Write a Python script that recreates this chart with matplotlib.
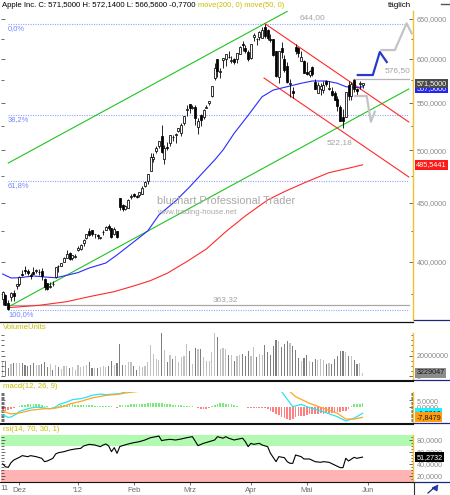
#!/usr/bin/env python3
"""
Apple Inc. daily chart (bluchart style): candles with moving averages,
trend channels and Fibonacci levels, plus volume, MACD and RSI panels.
"""

import numpy as np
import matplotlib
matplotlib.use("Agg")
import matplotlib.pyplot as plt
from matplotlib.lines import Line2D
from matplotlib.patches import Polygon
from matplotlib.ticker import NullFormatter

plt.rcParams["font.family"] = ["Liberation Sans", "DejaVu Sans"]

# ---- price data, one entry per trading day (22 Nov 2011 .. 30 May 2012) ----
opens = [
    371.0, 374.5, 368.4, 372.4, 375.8, 381.3,
    382.5, 389.8, 393.5, 392.5, 389.9, 391.5, 392.9, 391.7, 393.0, 386.7,
    383.3, 380.4, 382.5, 387.8, 396.7, 397.0, 399.7, 403.1, 406.9, 403.4, 403.5,
    409.5, 410.0, 414.9, 419.8, 425.5, 425.9, 422.6, 422.3, 419.5, 424.2,
    426.3, 430.0, 427.5, 422.7, 425.1, 454.4, 448.0, 444.3, 445.7, 455.6,
    458.4, 455.9, 457.3, 458.4, 465.3, 470.5, 480.0, 491.0, 499.5, 504.7,
    514.3, 491.5, 503.1, 506.9, 513.1, 515.1, 519.7, 517.6, 528.0, 541.6,
    548.2, 544.2, 545.4, 523.7, 536.8, 534.7, 544.2, 549.0, 557.5, 578.1,
    599.6, 584.7, 598.4, 599.5, 602.7, 597.8, 600.5, 599.8, 606.2, 618.4, 612.8, 608.8,
    601.8, 627.3, 624.4, 627.0, 626.1, 639.9, 636.2, 625.0, 624.1, 610.1,
    578.9, 613.0, 600.2, 591.4, 570.6, 562.6, 615.0, 613.8, 597.8, 597.9,
    584.9, 580.7, 590.5, 573.2, 561.0, 565.2, 563.7, 574.6, 565.0, 562.6,
    561.0, 554.0, 545.3, 534.0, 534.5, 569.6, 557.5, 575.9, 564.6, 570.9, 569.2,
]
highs = [
    377.0, 375.0, 370.5, 376.4, 378.2, 382.4,
    389.0, 393.6, 396.4, 394.6, 391.0, 395.5, 394.6, 393.9, 395.4, 387.4,
    383.7, 384.1, 384.8, 396.0, 397.3, 399.1, 403.6, 409.1, 408.2, 405.6, 406.3,
    412.5, 414.7, 418.6, 422.8, 427.8, 426.0, 422.9, 422.9, 420.5, 425.9,
    429.5, 431.4, 427.5, 428.5, 425.1, 454.5, 448.8, 448.5, 453.9, 458.2,
    459.0, 457.2, 460.0, 465.0, 469.8, 476.8, 496.8, 497.6, 503.8, 509.6,
    526.3, 504.9, 507.8, 514.9, 515.5, 517.8, 522.9, 528.0, 535.4, 547.6,
    548.2, 546.8, 547.5, 533.7, 537.8, 543.0, 547.7, 552.0, 568.2, 594.7,
    600.0, 589.2, 601.8, 606.0, 609.7, 603.5, 601.8, 607.2, 616.3, 621.5, 616.6, 610.6,
    618.8, 632.2, 625.9, 634.7, 639.8, 644.0, 636.9, 631.3, 624.7, 610.3,
    610.0, 620.3, 604.9, 596.0, 576.7, 567.7, 618.0, 614.7, 609.8, 598.4,
    596.8, 587.4, 591.4, 576.5, 572.8, 571.5, 573.9, 575.9, 574.5, 567.5,
    563.0, 556.9, 547.5, 543.4, 561.5, 573.9, 572.8, 576.5, 566.0, 574.0, 572.1,
]
lows = [
    367.0, 366.9, 363.3, 370.0, 370.1, 378.4,
    380.8, 388.6, 390.4, 389.9, 386.5, 390.2, 391.0, 389.5, 385.9, 377.7,
    378.3, 379.6, 380.7, 387.2, 392.0, 396.7, 399.5, 403.0, 401.1, 401.3, 403.4,
    409.0, 409.3, 412.5, 419.0, 421.4, 421.5, 419.3, 418.8, 418.7, 422.0,
    426.3, 426.0, 419.8, 422.3, 419.6, 443.7, 443.1, 443.8, 445.3, 453.1,
    455.6, 454.0, 455.6, 458.2, 464.5, 467.5, 480.0, 488.5, 497.1, 502.0,
    496.9, 486.6, 500.3, 504.1, 509.1, 507.4, 518.6, 514.3, 525.9, 535.7,
    538.8, 542.5, 526.0, 516.2, 525.2, 532.1, 543.9, 547.0, 555.8, 575.4,
    578.6, 578.0, 589.0, 592.0, 601.4, 595.0, 594.4, 595.3, 606.1, 610.3, 607.2, 597.9,
    600.4, 622.5, 617.0, 623.4, 625.3, 626.0, 623.3, 620.5, 603.5, 578.3,
    571.9, 600.7, 584.9, 572.0, 556.6, 555.0, 606.0, 602.1, 597.8, 583.0,
    581.2, 578.6, 580.0, 565.2, 561.0, 558.8, 560.5, 568.4, 564.4, 556.9,
    552.4, 541.0, 530.1, 522.2, 534.1, 552.6, 553.2, 561.2, 558.6, 565.3, 566.6,
]
closes = [
    376.5, 367.0, 363.6, 376.1, 373.2, 382.2,
    387.9, 389.7, 393.0, 391.0, 389.1, 390.7, 393.6, 391.8, 388.8, 380.2,
    379.0, 381.0, 382.2, 396.0, 396.4, 398.6, 403.3, 406.5, 402.6, 405.1, 405.0,
    411.2, 413.4, 418.0, 422.4, 421.7, 423.2, 422.6, 421.4, 419.8, 424.7,
    429.1, 427.8, 420.3, 427.4, 420.4, 446.7, 444.6, 447.3, 453.0, 456.5,
    456.2, 455.1, 459.7, 464.0, 468.8, 476.7, 493.2, 493.4, 502.6, 509.5,
    497.7, 502.2, 502.1, 514.9, 513.0, 516.4, 522.4, 525.8, 535.4, 542.4,
    544.5, 545.2, 533.2, 530.3, 530.7, 542.0, 545.2, 552.0, 568.1, 589.6,
    585.6, 585.6, 601.1, 606.0, 602.5, 599.3, 596.1, 607.0, 614.5, 617.6, 609.9, 599.6,
    618.6, 629.3, 624.3, 633.7, 636.2, 628.4, 626.2, 622.8, 605.2, 580.1,
    609.7, 608.3, 587.4, 573.0, 571.7, 560.3, 610.0, 607.7, 603.0, 584.0,
    582.1, 586.0, 581.8, 565.3, 569.5, 568.2, 569.2, 570.5, 566.7, 558.2,
    553.2, 546.1, 530.1, 530.4, 561.3, 557.0, 570.6, 565.3, 562.3, 572.3, 571.5,
]

# volume in millions of shares
volume = [
    13.9, 15.2, 8.1, 11.9, 12.9, 12.9, 12.9, 12.9, 11.3, 9.7,
    10.6, 12.9, 10.6, 10.6, 11.9, 13.9, 8.7, 11.9, 6.5, 11.3,
    8.7, 7.4, 9.7, 9.7, 8.1, 8.7, 6.5, 10.6, 8.7, 9.7,
    10.6, 13.9, 8.1, 8.1, 8.1, 8.7, 9.7, 8.7, 9.7, 14.5,
    10.6, 12.9, 31.3, 11.3, 11.3, 13.5, 13.5, 10.3, 6.5, 9.7,
    8.7, 10.3, 13.9, 30.0, 21.6, 17.1, 15.5, 41.9, 25.8, 13.9,
    21.0, 17.1, 19.4, 13.9, 18.4, 19.4, 31.3, 24.2, 11.9, 27.4,
    26.8, 26.8, 18.4, 15.2, 14.5, 23.2, 41.9, 37.7, 26.8, 27.4,
    26.8, 21.0, 20.3, 14.5, 20.0, 21.0, 21.9, 19.4, 24.2, 19.4,
    28.1, 18.7, 21.9, 20.3, 30.0, 23.5, 21.0, 29.0, 34.8, 33.9,
    28.1, 31.3, 33.9, 32.3, 29.0, 25.2, 17.7, 14.5, 17.7, 20.3,
    14.5, 13.9, 17.1, 15.5, 17.1, 15.5, 12.3, 12.9, 12.3, 17.1,
    19.4, 24.2, 24.2, 23.2, 19.4, 19.4, 16.1, 11.9, 12.9, 3.23,
]

# moving averages (day index, price)
ma50_days = [0, 3, 6, 11, 15, 19, 22, 27, 31, 37, 41, 46, 52, 56, 62, 67, 72,
             76, 79, 83, 88, 93, 97, 102, 107, 111, 116, 120, 123, 126, 129]
ma50_vals = [390.3, 387.2, 387.4, 388.8, 388.0, 387.4, 388.8, 391.4, 395.0, 399.0,
             405.5, 414.4, 425.4, 439.2, 451.7, 464.5, 478.7, 490.3, 500.2, 517.2,
             536.1, 556.4, 563.9, 567.7, 571.6, 574.2, 574.2, 571.6, 567.7, 566.5, 567.5]
ma200_days = [2, 13, 23, 31, 40, 47, 53, 59, 66, 73, 80, 87, 95, 101, 109, 117, 124, 129]
ma200_vals = [364.9, 366.6, 369.3, 373.0, 376.8, 381.1, 385.2, 390.9, 400.1, 410.3,
              424.8, 438.4, 452.6, 460.2, 469.4, 478.0, 482.3, 485.5441]

# trend channels (day, price) anchors
green_low_days, green_low_vals = [2, 145.6], [365.4, 565.1]
green_up_days, green_up_vals = [2, 102], [487.3, 660.0]
red_up_days, red_up_vals = [94, 145.6], [644.0, 529.0]
red_low_days, red_low_vals = [93.7, 145.6], [577.6, 473.9]

# scenario sketches drawn on the chart
proj_blue_days = [127.3, 132.7, 135.2, 137.7]
proj_blue_vals = [581.1, 581.1, 608.5, 596.4]
proj_up_days = [135.8, 140.6, 144.8, 146.6]
proj_up_vals = [610.9, 610.9, 644.4, 631.7]
proj_down_days = [126.3, 130.5, 132.0, 133.4]
proj_down_vals = [557.2, 557.2, 529.3, 540.0]

swing_high = 644.00
swing_low = 363.32
recent_low = 522.18
resistance = 576.50
support_line = 366.8
fib_ratios = [0.0, 0.382, 0.618, 1.0]
fib_names = ["0,0%", "38,2%", "61,8%", "100,0%"]

# MACD(12,26,9); nan where the line leaves the panel
macd_days = [0, 2, 3, 5, 6, 8, 10, 12, 13, 15, 17, 19, 20, 23, 25, 28, 30, 32, 35,
             37, 40, 42, 44, 45, 100, 104, 107, 110, 115, 120, 123, 126, 129]
macd_vals = [-5.9, -7.9, -7.6, -5.3, -3.3, -2.0, -0.8, -0.2, -0.2, -0.8, -1.3, -0.2,
             1.8, 3.8, 5.6, 6.4, 7.4, 8.9, 9.9, 9.4, 9.9, 10.2, 11.5, np.nan,
             11.7, 0.2, 2.0, -0.5, -3.6, -7.4, -10.7, -8.6, -4.8]
signal_days = [0, 3, 6, 10, 12, 15, 17, 19, 22, 24, 28, 30, 32, 35, 37, 40, 42, 44,
               47, 49, 50, 103, 105, 110, 115, 120, 123, 126, 129]
signal_vals = [-3.3, -5.3, -4.6, -2.5, -2.0, -1.3, -1.3, -0.8, 0.5, 2.3, 4.3, 5.6,
               6.9, 8.1, 8.9, 9.4, 9.9, 10.7, 11.5, 12.0, np.nan,
               11.7, 7.9, 2.8, -1.0, -4.8, -9.2, -9.2, -7.9]
macd_hist = [
    -2.2, -2.8, -2.6, -1.6, -0.6, 0.3,
    0.8, 1.3, 1.8, 2.0, 2.2, 2.3, 2.2, 2.0, 1.6, 1.0,
    0.4, -0.2, 0.2, 0.5, 0.9,
    1.3, 1.6, 1.8, 2.0, 2.0, 1.9, 1.8, 1.6, 1.5, 1.4, 1.3, 1.2, 1.0, 0.9, 0.8, 0.7, 0.6, 0.5, 0.4,
    0.2, -0.4,
    1.2, 1.6, 1.8, 1.9, 2.0, 2.0, 2.1, 2.2, 2.3, 2.5, 2.8, 3.1, 3.3, 3.3, 3.2, 2.9, 2.5, 2.2,
    2.0, 1.9, 1.7, 1.6, 1.4,
    1.1, 0.9, 0.7, 0.4, 0.2,
    -0.8, -1.5, -1.8, -1.5, -0.8,
    0.5, 1.5, 2.3, 2.8, 2.9, 2.6, 2.3, 2.0, 1.5,
    0.6, 0.3, 0.2, 0.1,
    -0.5, -0.6, -0.6, -0.8, -0.9, -0.9, -1.0, -1.2,
    -3.1, -4.0, -5.0, -6.0, -7.4, -8.7, -9.5, -9.9, -9.2, -8.0, -6.8, -6.6, -7.0, -6.0,
    -5.6, -5.4, -5.6, -5.0, -4.8, -5.0, -4.6, -4.8, -4.6, -4.3, -4.0, -3.6, -3.3, -2.8,
    -1.5, 1.0, 2.0, 2.4, 2.6, 2.8,
]
macd_last, signal_last = -4.8018, -7.8479

# RSI(14)
rsi_days = [0, 1, 2, 3, 4, 6, 7, 9, 10, 12, 14, 15, 16, 18, 19, 20, 22, 24, 26, 28,
            29, 31, 33, 35, 36, 37, 38, 39, 40, 41, 42, 43, 45, 47, 49, 51, 53, 55,
            56, 57, 58, 60, 62, 64, 66, 68, 69, 70, 72, 74, 76, 77, 79, 80, 81, 83,
            84, 86, 87, 88, 89, 90, 92, 93, 95, 96, 98, 99, 101, 102, 103, 104, 105,
            107, 108, 110, 112, 114, 115, 117, 119, 121, 122, 123, 124, 126, 127, 129]
rsi_vals = [40.0, 35.0, 34.0, 42.0, 46.4, 50.9, 53.7, 52.0, 53.7, 52.0, 49.2, 43.6,
            44.7, 49.2, 56.5, 58.7, 60.4, 63.2, 64.9, 66.0, 69.9, 72.7, 71.6, 68.8,
            71.6, 73.3, 70.0, 60.4, 67.1, 57.6, 69.0, 70.5, 73.3, 75.5, 77.2, 80.0,
            83.9, 85.6, 86.7, 78.9, 80.0, 81.1, 80.0, 81.7, 83.9, 85.6, 78.3, 70.5,
            74.4, 77.2, 80.0, 85.6, 83.0, 85.6, 83.0, 80.0, 81.1, 83.0, 77.2, 68.8,
            74.4, 72.7, 74.4, 71.6, 68.8, 57.6, 43.6, 52.0, 50.3, 43.6, 40.8, 40.8,
            54.8, 52.0, 48.1, 48.1, 43.6, 42.5, 43.6, 42.5, 38.0, 33.5, 33.5, 49.2,
            44.7, 50.9, 49.2, 51.2732]

month_days = [6, 27, 47, 67, 89, 109, 131]
month_labels = ["Dez", "'12", "Feb", "Mrz", "Apr", "Mai", "Jun"]

# ---- layout ----
W, H = 450, 495
XMIN, XMAX = -0.6, 147.1
YELLOW = "#f2c22a"
NAVY = "#1b2a80"
LABEL_GRAY = "#8a8a8a"
HEADER = "#c9bd00"


def de(v, nd=4):
    return f"{v:.{nd}f}".replace(".", ",")


def px_axes(fig, x0, y0, x1, y1):
    return fig.add_axes([x0 / W, 1 - y1 / H, (x1 - x0) / W, (y1 - y0) / H])


def fig_text(fig, x, y, s, **kw):
    kw.setdefault("va", "center")
    return fig.text(x / W, 1 - y / H, s, **kw)


def fig_line(fig, xs, ys, **kw):
    fig.add_artist(Line2D([x / W for x in xs], [1 - y / H for y in ys],
                          transform=fig.transFigure, **kw))


def style_panel(ax, major, labels, minor):
    for side in ("top", "left", "bottom"):
        ax.spines[side].set_visible(False)
    ax.spines["right"].set_color(YELLOW)
    ax.spines["right"].set_linewidth(1.0)
    ax.set_xlim(XMIN, XMAX)
    ax.set_yticks(major, labels)
    ax.set_yticks(minor, minor=True)
    ax.yaxis.set_minor_formatter(NullFormatter())
    ax.tick_params(axis="x", which="both", bottom=False, labelbottom=False)
    ax.tick_params(axis="y", which="both", left=True, right=True, labelleft=False,
                   labelright=True, direction="in", color="#333333", width=0.5,
                   labelsize=5.2, labelcolor=LABEL_GRAY, pad=2.5)
    ax.tick_params(axis="y", which="major", length=3)
    ax.tick_params(axis="y", which="minor", length=1.8)


def value_box(ax, y, text, fc, tc):
    ax.text(1.008, y, text, transform=ax.get_yaxis_transform(), ha="left",
            va="center", fontsize=5.2, color=tc, zorder=6, clip_on=False,
            bbox=dict(boxstyle="square,pad=0.18", fc=fc, ec="none"))


def main():
    fig = plt.figure(figsize=(W / 100, H / 100), dpi=100)
    days = np.arange(len(closes))
    o, h, l, c = (np.array(a) for a in (opens, highs, lows, closes))
    up = c >= o

    # ---- price panel ----
    ax = px_axes(fig, 1, 11, 413, 320)
    ax.set_yscale("log")
    ax.set_ylim(356.0, 660.5)
    price_major = [400, 450, 500, 550, 600, 650]
    price_minor = [375, 425, 475, 525, 575, 625]
    style_panel(ax, price_major, [de(v) for v in price_major], price_minor)

    for r, name in zip(fib_ratios, fib_names):
        level = swing_high - r * (swing_high - swing_low)
        ax.plot([1.9, 145.6], [level, level], color="#8ea6ff", lw=0.8,
                ls=(0, (1, 1.2)), zorder=1)
        ax.annotate(name, (1.9, level), xytext=(0, -1), textcoords="offset points",
                    ha="left", va="top", fontsize=5.4, color="#6f86ff")

    ax.plot([2, 145.6], [support_line, support_line], color="#a8a8a8", lw=0.9, zorder=1)
    ax.plot([125.6, 145.6], [resistance, resistance], color="#b4b4b4", lw=0.9, zorder=1)

    ax.plot(green_low_days, green_low_vals, color="#1fc41f", lw=0.8, zorder=2)
    ax.plot(green_up_days, green_up_vals, color="#1fc41f", lw=0.8, zorder=2)
    ax.plot(red_up_days, red_up_vals, color="#ff2a2a", lw=0.8, zorder=2)
    ax.plot(red_low_days, red_low_vals, color="#ff2a2a", lw=0.8, zorder=2)
    ax.plot(ma200_days, ma200_vals, color="#ff2a2a", lw=0.8, zorder=2)
    ax.plot(ma50_days, ma50_vals, color="#2a2aff", lw=0.8, zorder=2)

    ax.vlines(days, l, h, color="black", lw=0.6, zorder=3)
    body_lo = np.minimum(o, c)
    body_h = np.maximum(np.abs(c - o), 0.5)
    ax.bar(days, body_h, bottom=body_lo, width=0.72,
           color=np.where(up, "white", "black"), edgecolor="black",
           linewidth=0.55, zorder=4)

    ax.plot(proj_up_days, proj_up_vals, color="#c4c4c4", lw=1.6, zorder=3)
    ax.plot(proj_down_days, proj_down_vals, color="#c4c4c4", lw=1.6, zorder=3)
    ax.plot(proj_blue_days, proj_blue_vals, color="#2b3bc8", lw=1.6, zorder=3)

    ann = dict(fontsize=6, color="#a4a4a4", zorder=5)
    ax.text(110.9, 651.3, de(swing_high, 2), ha="center", va="center", **ann)
    ax.text(146.3, 585.8, de(resistance, 2), ha="right", va="center", **ann)
    ax.text(120.7, 508.2, de(recent_low, 2), ha="center", va="center", **ann)
    ax.text(80.0, 370.9, de(swing_low, 2), ha="center", va="center", **ann)

    value_box(ax, ma50_vals[-1] - 1.5, de(ma50_vals[-1]), "#2424f0", "white")
    value_box(ax, closes[-1], de(closes[-1]), "#4a4a4a", "white")
    value_box(ax, ma200_vals[-1], de(ma200_vals[-1]), "#ff1a1a", "white")

    # ---- volume panel ----
    axv = px_axes(fig, 1, 333, 413, 379.7)
    axv.set_ylim(-3.3, 42)
    style_panel(axv, [0, 20], ["0", "20000000"], [5, 10, 15, 25, 30, 35, 40])
    axv.bar(days, volume, width=0.42,
            color=np.where(up, "#c2c2c2", "#7e7e7e"), linewidth=0)
    value_box(axv, volume[-1], "3229047", "#8c8c8c", "#1a1a1a")

    # ---- MACD panel ----
    axm = px_axes(fig, 1, 392, 413, 422)
    axm.set_ylim(-11.45, 11.45)
    style_panel(axm, [0, 5], [de(0), de(5)], list(range(-11, 12)))
    hist = np.array(macd_hist)
    axm.bar(days, hist, width=0.6, color=np.where(hist >= 0, "#7de87d", "#ff8080"),
            linewidth=0)
    axm.plot(macd_days, macd_vals, color="#28e4f4", lw=0.9)
    axm.plot(signal_days, signal_vals, color="#ffa424", lw=0.9)
    value_box(axm, macd_last, de(macd_last), "#22f0ff", "#1a1a1a")
    value_box(axm, signal_last, de(signal_last), "#ff9c10", "#1a1a1a")

    # ---- RSI panel ----
    axr = px_axes(fig, 1, 435, 413, 481.7)
    axr.set_ylim(9.9, 88.4)
    style_panel(axr, [20, 40, 60, 80], [de(v) for v in (20, 40, 60, 80)],
                list(range(10, 90, 5)))
    axr.axhspan(70, 100, color="#b2f9b2", lw=0, zorder=0)
    axr.axhspan(0, 30, color="#ffb3b3", lw=0, zorder=0)
    axr.plot(rsi_days, rsi_vals, color="black", lw=0.8)
    value_box(axr, rsi_vals[-1], de(rsi_vals[-1]), "black", "white")
    axr.set_xticks(month_days, month_labels)
    axr.tick_params(axis="x", which="major", bottom=True, labelbottom=True,
                    direction="out", length=2, width=0.5, color="#333333",
                    labelsize=5.6, labelcolor="#6e6e6e", pad=1.5)

    # ---- frame, headers and texts ----
    for y, lw in ((321.5, 0.9), (381.0, 1.5), (423.5, 1.5), (482.2, 0.8)):
        fig_line(fig, [0, 413], [y, y], color="#111111", lw=lw)
    for y in (320.3, 380.3, 423.0, 481.7):
        fig_line(fig, [413.5, 450], [y, y], color=NAVY, lw=0.9)
    fig_line(fig, [413.5, 413.5], [482, 495], color="#333333", lw=0.8)
    fig_line(fig, [441, 450], [4, 4], color="#555555", lw=1.0)
    fig_line(fig, [428, 435], [493, 487], color=NAVY, lw=0.9)
    fig.add_artist(Polygon([[432 / W, 1 - 488 / H], [438 / W, 1 - 485 / H],
                            [437 / W, 1 - 491 / H]], closed=True,
                           transform=fig.transFigure, fc="#2040d0", ec=NAVY, lw=0.5))

    title = fig_text(fig, 2, 5.5,
                     "Apple Inc. C: 571,5000 H: 572,1400 L: 566,5600 -0,7700",
                     fontsize=5.6, color="black")
    renderer = fig.canvas.get_renderer()
    title_end = title.get_window_extent(renderer).x1
    fig_text(fig, title_end + 3, 5.5, "move(200, 0) move(50, 0)", fontsize=5.4,
             color=HEADER)
    fig_text(fig, 411, 5.5, "täglich", fontsize=5.8, color="black", ha="right")
    fig_text(fig, 3, 327.5, "VolumeUnits", fontsize=5.6, color=HEADER)
    fig_text(fig, 3, 386, "macd(12, 26, 9)", fontsize=5.6, color=HEADER)
    fig_text(fig, 3, 429.5, "rsi(14, 70, 30, 1)", fontsize=5.6, color=HEADER)
    fig_text(fig, 4, 488.5, "11", fontsize=5.6, color="#6e6e6e", ha="center")

    fig_text(fig, 157, 201, "bluchart Professional Trader", fontsize=7.9,
             color="#a9a9a9")
    fig_text(fig, 157, 212.3, "www.trading-house.net", fontsize=5.6, color="#a9a9a9")

    fig.savefig("out.png", dpi=100)
    plt.close(fig)


if __name__ == "__main__":
    main()
